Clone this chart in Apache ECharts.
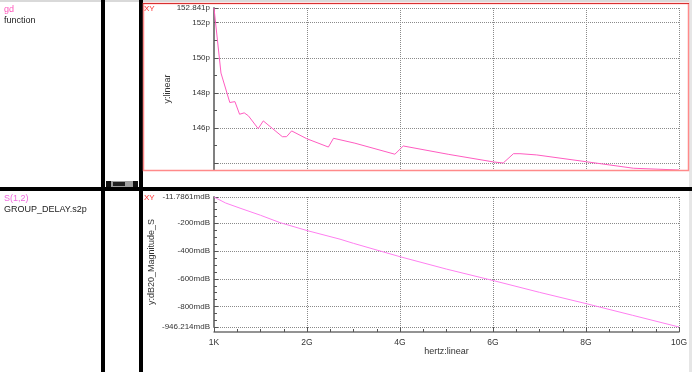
<!DOCTYPE html>
<html>
<head>
<meta charset="utf-8">
<script src="https://cdn.jsdelivr.net/npm/echarts@6/dist/echarts.min.js"></script>
<style>
html,body{margin:0;padding:0;background:#fff;}
#c{width:692px;height:372px;}
</style>
</head>
<body>
<div id="c"></div>
<script>
// ---- data ----
const topFreqG = [0, 0.15, 0.34, 0.45, 0.55, 0.65, 0.74, 0.95, 1.06, 1.47, 1.56, 1.67, 1.99, 2.46, 2.57, 3.03, 3.89, 4.07, 5.05, 6.01, 6.22, 6.44, 6.58, 6.94, 8.01, 9.02, 10];
const topGdP   = [152.841, 149.13, 147.45, 147.50, 146.78, 146.86, 146.69, 145.96, 146.40, 145.50, 145.50, 145.83, 145.39, 144.91, 145.41, 145.13, 144.50, 144.97, 144.49, 144.06, 144.00, 144.53, 144.53, 144.46, 144.07, 143.70, 143.60];
const botFreqG = [0, 0.25, 0.56, 1, 1.42, 2, 2.71, 3, 4, 5, 6, 7, 8, 9, 10];
const botMagMdB = [-11.7861, -55, -92, -143, -196, -253, -315, -345, -441, -530, -612, -697, -778, -862, -946.214];
const topYMin = 143.6, topYMax = 152.841;
const botYMin = -946.214, botYMax = -11.7861;
const xTickLabel = v => (v === 0 ? '1K' : v + 'G');

const FONT = '"Liberation Sans", Arial, sans-serif';
const chart = echarts.init(document.getElementById('c'), null, {renderer: 'canvas', width: 692, height: 372});

const pair = (xs, ys) => xs.map((x, i) => [x, ys[i]]);
const gridLine = {show: true, lineStyle: {type: 'dotted', color: '#8a8a8a', width: 1}};

const option = {
  animation: false,
  backgroundColor: '#ffffff',
  textStyle: {fontFamily: FONT},
  grid: [
    {left: 214, top: 8, width: 465, height: 162},
    {left: 214, top: 197, width: 465, height: 130}
  ],
  xAxis: [
    {gridIndex: 0, type: 'value', min: 0, max: 10, interval: 2,
     axisLine: {show: false}, axisTick: {show: false}, axisLabel: {show: false},
     splitLine: gridLine},
    {gridIndex: 1, type: 'value', min: 0, max: 10, interval: 2, offset: 5,
     axisLine: {show: true, lineStyle: {color: '#707070', width: 1.5}},
     axisTick: {show: true, inside: true, length: 5, lineStyle: {color: '#555'}},
     minorTick: {show: true, splitNumber: 4, length: 3, lineStyle: {color: '#555'}},
     axisLabel: {formatter: xTickLabel, fontSize: 8.5, color: '#333', margin: 6, fontFamily: FONT},
     name: 'hertz:linear', nameLocation: 'middle', nameGap: 15, nameMoveOverlap: false,
     nameTextStyle: {fontSize: 9, color: '#333', fontFamily: FONT},
     splitLine: gridLine}
  ],
  yAxis: [
    {gridIndex: 0, type: 'value', min: topYMin, max: topYMax,
     axisLine: {show: true, lineStyle: {color: '#808080', width: 2}},
     axisTick: {show: true, inside: true, length: 4, lineStyle: {color: '#555'}},
     minorTick: {show: true, splitNumber: 2, length: 3, lineStyle: {color: '#555'}},
     axisLabel: {formatter: v => (v < 145 ? '' : v + 'p'), fontSize: 8, color: '#333', margin: 4,
                 showMaxLabel: true, fontFamily: FONT},
     name: 'y:linear', nameLocation: 'middle', nameGap: 42, nameRotate: 90, nameMoveOverlap: false,
     nameTextStyle: {fontSize: 9, color: '#333', fontFamily: FONT},
     splitLine: gridLine},
    {gridIndex: 1, type: 'value', min: botYMin, max: botYMax,
     axisLine: {show: true, lineStyle: {color: '#808080', width: 2}},
     axisTick: {show: true, inside: true, length: 4, lineStyle: {color: '#555'}},
     minorTick: {show: true, splitNumber: 4, length: 3, lineStyle: {color: '#555'}},
     axisLabel: {formatter: v => v + 'mdB', fontSize: 8, color: '#333', margin: 4,
                 showMaxLabel: true, showMinLabel: true, fontFamily: FONT},
     name: 'y:dB20_Magnitude_S', nameLocation: 'middle', nameGap: 58, nameRotate: 90, nameMoveOverlap: false,
     nameTextStyle: {fontSize: 9, color: '#333', fontFamily: FONT},
     splitLine: gridLine}
  ],
  series: [
    {type: 'line', xAxisIndex: 0, yAxisIndex: 0, data: pair(topFreqG, topGdP),
     showSymbol: false, lineStyle: {color: '#ff5cc0', width: 1}, itemStyle: {color: '#ff5cc0'}},
    {type: 'line', xAxisIndex: 1, yAxisIndex: 1, data: pair(botFreqG, botMagMdB),
     showSymbol: false, lineStyle: {color: '#ff7ff0', width: 1}, itemStyle: {color: '#ff7ff0'}}
  ],
  graphic: [
    // frame strips
    {type: 'rect', shape: {x: 0, y: 0, width: 692, height: 2}, style: {fill: '#d9d9d9'}, z: 10},
    {type: 'rect', shape: {x: 689, y: 0, width: 3, height: 372}, style: {fill: '#e6e6e6'}, z: 10},
    // black splitter bars
    {type: 'rect', shape: {x: 101, y: 0, width: 4, height: 372}, style: {fill: '#000'}, z: 10},
    {type: 'rect', shape: {x: 139, y: 0, width: 4, height: 372}, style: {fill: '#000'}, z: 10},
    {type: 'rect', shape: {x: 0, y: 187, width: 692, height: 4}, style: {fill: '#000'}, z: 10},
    // scroll widget
    {type: 'rect', shape: {x: 106, y: 181, width: 32, height: 6}, style: {fill: '#a0a0a0'}, z: 10},
    {type: 'rect', shape: {x: 106, y: 181, width: 5, height: 6}, style: {fill: '#111'}, z: 11},
    {type: 'rect', shape: {x: 133, y: 181, width: 5, height: 6}, style: {fill: '#111'}, z: 11},
    {type: 'rect', shape: {x: 113, y: 182, width: 12, height: 4}, style: {fill: '#222'}, z: 11},
    // top chart red frame
    {type: 'rect', shape: {x: 143.5, y: 3.5, width: 545, height: 167}, style: {fill: 'none', stroke: '#ff8a8a', lineWidth: 1.5}, z: 12},
    {type: 'line', shape: {x1: 143, y1: 3.5, x2: 689, y2: 3.5}, style: {stroke: '#d83030', lineWidth: 1}, z: 12},
    // labels
    {type: 'text', left: 4, top: 5, style: {text: 'gd', fill: '#ff55bb', font: '9px ' + FONT}, z: 12},
    {type: 'text', left: 4, top: 16, style: {text: 'function', fill: '#222', font: '9px ' + FONT}, z: 12},
    {type: 'text', left: 4, top: 194, style: {text: 'S(1,2)', fill: '#ee66dd', font: '9px ' + FONT}, z: 12},
    {type: 'text', left: 4, top: 205, style: {text: 'GROUP_DELAY.s2p', fill: '#222', font: '9px ' + FONT}, z: 12},
    {type: 'text', left: 144, top: 5, style: {text: 'XY', fill: '#ff3030', font: '8px ' + FONT}, z: 12},
    {type: 'text', left: 144, top: 194, style: {text: 'XY', fill: '#ff3030', font: '8px ' + FONT}, z: 12}
  ]
};
chart.setOption(option);
</script>
</body>
</html>
